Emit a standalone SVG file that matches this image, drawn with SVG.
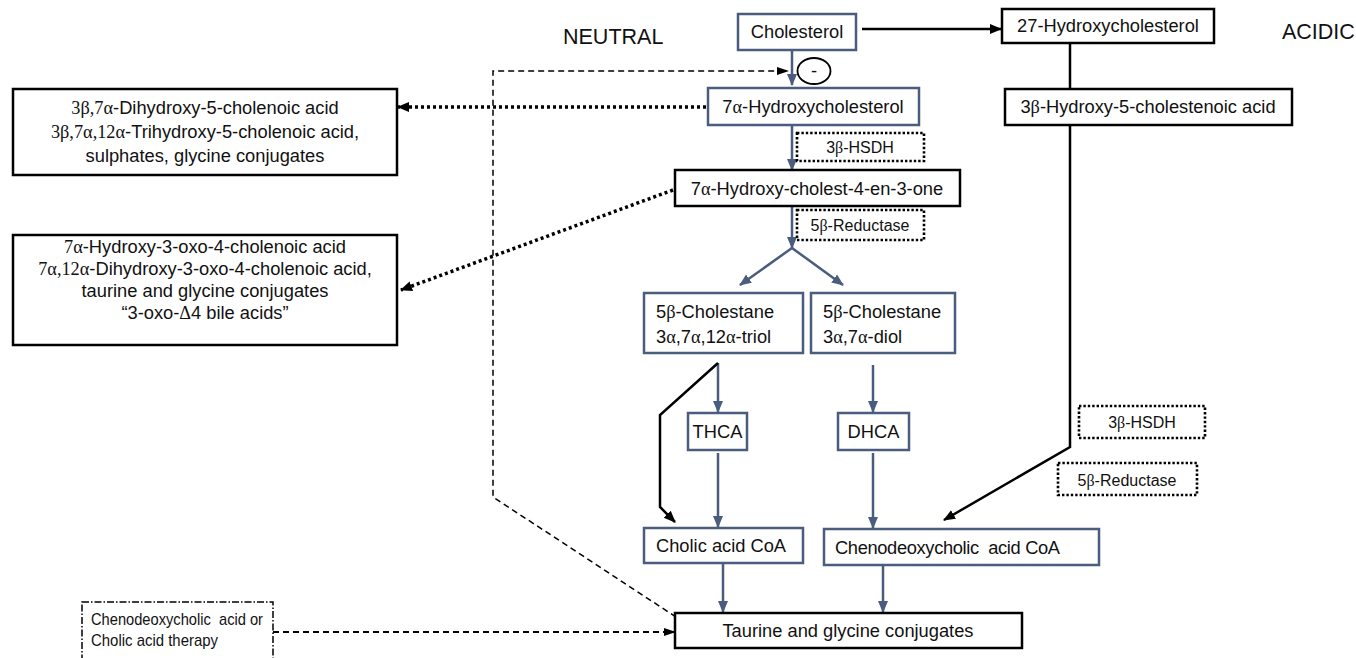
<svg xmlns="http://www.w3.org/2000/svg" width="1356" height="658" viewBox="0 0 1356 658">
<defs>
<style>
text{font-family:"Liberation Sans",Arial,sans-serif;fill:#111}
.t{font-size:18.3px}
.c{text-anchor:middle}
.g{font-family:"Liberation Serif","Times New Roman",serif}
.sm{font-size:16px}
.hd{font-size:21.5px}
.bb{fill:#fff;stroke:#4a5d7e;stroke-width:2.5}
.kb{fill:#fff;stroke:#000;stroke-width:2.5}
.db{fill:#fff;stroke:#000;stroke-width:2.6;stroke-dasharray:2.4 2}
.sl{fill:none;stroke:#4a5d7e;stroke-width:2.5}
.bl{fill:none;stroke:#000;stroke-width:2.5}
.dot{fill:none;stroke:#000;stroke-width:3.5;stroke-dasharray:3 3}
.dsh{fill:none;stroke:#000;stroke-width:1.5;stroke-dasharray:6 4}
</style>
<marker id="as" markerUnits="userSpaceOnUse" markerWidth="12" markerHeight="12" viewBox="0 0 12 12" refX="11" refY="6" orient="auto"><path d="M0,1 L12,6 L0,11 z" fill="#4a5d7e"/></marker>
<marker id="ak" markerUnits="userSpaceOnUse" markerWidth="12" markerHeight="12" viewBox="0 0 12 12" refX="11" refY="6" orient="auto"><path d="M0,1 L12,6 L0,11 z" fill="#000"/></marker>
<marker id="ad" markerUnits="userSpaceOnUse" markerWidth="12" markerHeight="12" viewBox="0 0 12 12" refX="11" refY="6" orient="auto"><path d="M0,2 L12,6 L0,10 z" fill="#000"/></marker>
</defs>
<rect width="1356" height="658" fill="#fff"/>

<g id="labels">
<text class="hd" x="563" y="44">NEUTRAL</text>
<text class="hd" x="1282" y="39">ACIDIC</text>
</g>

<g id="connectors">
<line class="bl" x1="862" y1="29" x2="1001" y2="29" marker-end="url(#ak)"/>
<line class="bl" x1="1070" y1="43" x2="1070" y2="89"/>
<polyline class="bl" points="1070,125 1070,447 944,520" marker-end="url(#ak)"/>
<line class="sl" x1="792" y1="50" x2="792" y2="85" marker-end="url(#as)"/>
<polyline class="dsh" points="676,617 493,497 493,71 788,71" marker-end="url(#ad)"/>
<line class="dot" x1="706" y1="107" x2="398" y2="107" marker-end="url(#ak)"/>
<line class="sl" x1="792" y1="125" x2="792" y2="170" marker-end="url(#as)"/>
<line class="dot" x1="673" y1="190" x2="401" y2="290" marker-end="url(#ak)"/>
<line class="sl" x1="792" y1="206" x2="792" y2="248" marker-end="url(#as)"/>
<line class="sl" x1="792" y1="248" x2="740" y2="285" marker-end="url(#as)"/>
<line class="sl" x1="792" y1="248" x2="843" y2="285" marker-end="url(#as)"/>
<line class="sl" x1="718" y1="363" x2="718" y2="412" marker-end="url(#as)"/>
<polyline class="bl" points="718,363 660,415 660,507 675,522" marker-end="url(#ak)"/>
<line class="sl" x1="718" y1="453" x2="718" y2="527" marker-end="url(#as)"/>
<line class="sl" x1="873" y1="365" x2="873" y2="412" marker-end="url(#as)"/>
<line class="sl" x1="873" y1="453" x2="873" y2="528" marker-end="url(#as)"/>
<line class="sl" x1="723" y1="564" x2="723" y2="612" marker-end="url(#as)"/>
<line class="sl" x1="883" y1="566" x2="883" y2="612" marker-end="url(#as)"/>
<line class="dsh" style="stroke-width:2" x1="273" y1="632" x2="675" y2="632" marker-end="url(#ad)"/>
</g>

<g id="inhibit">
<ellipse cx="814" cy="71" rx="16.5" ry="13" fill="#fff" stroke="#000" stroke-width="1.8"/>
<text class="t c" x="814" y="77">-</text>
</g>

<g id="cholesterol">
<rect class="bb" x="738" y="14" width="118" height="36"/>
<text class="t c" x="797" y="38">Cholesterol</text>
</g>

<g id="hydroxycholesterol27">
<rect class="kb" x="1002" y="9" width="212" height="34"/>
<text class="t c" x="1108" y="32">27-Hydroxycholesterol</text>
</g>

<g id="cholestenoic">
<rect class="kb" x="1005" y="89" width="287" height="36"/>
<text class="t c" x="1148" y="113">3<tspan class="g">β</tspan>-Hydroxy-5-cholestenoic acid</text>
</g>

<g id="hydroxycholesterol7a">
<rect class="bb" x="708" y="88" width="211" height="37"/>
<text class="t c" x="813" y="113">7<tspan class="g">α</tspan>-Hydroxycholesterol</text>
</g>

<g id="leftbox1">
<rect class="kb" x="13" y="89" width="384" height="86"/>
<text class="t c" x="205" y="114"><tspan class="g">3β,7α</tspan>-Dihydroxy-5-cholenoic acid</text>
<text class="t c" x="205" y="138"><tspan class="g">3β,7α,12α</tspan>-Trihydroxy-5-cholenoic acid,</text>
<text class="t c" x="205" y="162">sulphates, glycine conjugates</text>
</g>

<g id="hsdh1">
<rect class="db" x="797" y="133" width="127" height="28"/>
<text class="sm c" x="860" y="153">3<tspan class="g">β</tspan>-HSDH</text>
</g>

<g id="cholestenone">
<rect class="kb" x="675" y="170" width="285" height="36"/>
<text class="t c" x="817" y="195">7<tspan class="g">α</tspan>-Hydroxy-cholest-4-en-3-one</text>
</g>

<g id="reductase1">
<rect class="db" x="797" y="210" width="127" height="30"/>
<text class="sm c" x="860" y="231">5<tspan class="g">β</tspan>-Reductase</text>
</g>

<g id="leftbox2">
<rect class="kb" x="13" y="235" width="384" height="110"/>
<text class="t c" x="205" y="253"><tspan class="g">7α</tspan>-Hydroxy-3-oxo-4-cholenoic acid</text>
<text class="t c" x="205" y="275"><tspan class="g">7α,12α</tspan>-Dihydroxy-3-oxo-4-cholenoic acid,</text>
<text class="t c" x="205" y="297">taurine and glycine conjugates</text>
<text class="t c" x="205" y="319">“3-oxo-<tspan class="g">Δ</tspan>4 bile acids”</text>
</g>

<g id="triol">
<rect class="bb" x="644" y="293" width="159" height="60"/>
<text class="t" x="656" y="318">5<tspan class="g">β</tspan>-Cholestane</text>
<text class="t" x="656" y="343">3<tspan class="g">α</tspan>,7<tspan class="g">α</tspan>,12<tspan class="g">α</tspan>-triol</text>
</g>

<g id="diol">
<rect class="bb" x="811" y="293" width="144" height="60"/>
<text class="t" x="823" y="318">5<tspan class="g">β</tspan>-Cholestane</text>
<text class="t" x="823" y="343">3<tspan class="g">α</tspan>,7<tspan class="g">α</tspan>-diol</text>
</g>

<g id="thca">
<rect class="bb" x="688" y="413" width="59" height="37"/>
<text class="t c" x="717.5" y="438">THCA</text>
</g>

<g id="dhca">
<rect class="bb" x="838" y="413" width="71" height="37"/>
<text class="t c" x="873.5" y="438">DHCA</text>
</g>

<g id="hsdh2">
<rect class="db" x="1079" y="406" width="126" height="32"/>
<text class="sm c" x="1142" y="428">3<tspan class="g">β</tspan>-HSDH</text>
</g>

<g id="reductase2">
<rect class="db" x="1058" y="463" width="139" height="32"/>
<text class="sm c" x="1127" y="486">5<tspan class="g">β</tspan>-Reductase</text>
</g>

<g id="cholicCoA">
<rect class="bb" x="644" y="528" width="159" height="35"/>
<text class="t" x="656" y="552">Cholic acid CoA</text>
</g>

<g id="chenoCoA">
<rect class="bb" x="824" y="529" width="275" height="36"/>
<text class="t" x="835" y="554" textLength="225" xml:space="preserve">Chenodeoxycholic  acid CoA</text>
</g>

<g id="taurine">
<rect class="kb" x="675" y="613" width="347" height="35"/>
<text class="t c" x="848" y="637">Taurine and glycine conjugates</text>
</g>

<g id="therapy">
<rect x="82" y="602" width="191" height="70" fill="#fff" stroke="#000" stroke-width="1.5" stroke-dasharray="7 2 1.5 2"/>
<text x="91" y="625" style="font-size:17px" textLength="172" lengthAdjust="spacingAndGlyphs" xml:space="preserve">Chenodeoxycholic  acid or</text>
<text x="91" y="646" style="font-size:17px" textLength="127" lengthAdjust="spacingAndGlyphs">Cholic acid therapy</text>
</g>
</svg>
